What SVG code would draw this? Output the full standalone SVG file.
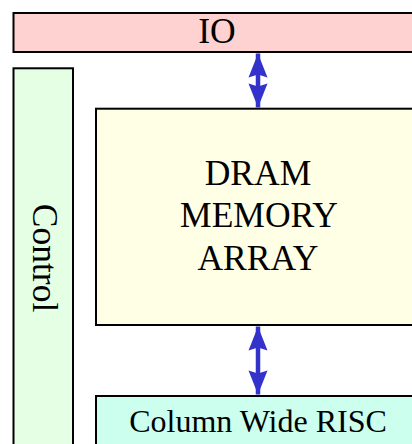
<svg xmlns="http://www.w3.org/2000/svg" width="412" height="444" viewBox="0 0 412 444">
<style>
.box{stroke:#000;stroke-width:2}
.t{font-family:"Liberation Serif","Times New Roman",serif;fill:#000;text-anchor:middle}
.big{font-size:35.5px}
.conn{stroke:#3333cc;stroke-width:4.5;fill:none}
</style>
<defs>
<marker id="ah" markerUnits="userSpaceOnUse" markerWidth="30" markerHeight="24" viewBox="-26 -12 30 24" refX="0" refY="0" orient="auto-start-reverse">
<path d="M0,0 L-24,-9.5 L-21,0 L-24,9.5 Z" fill="#3333cc"/>
</marker>
</defs>
<rect width="412" height="444" fill="#fff"/>
<g id="io">
<rect class="box" x="13.5" y="13" width="420" height="39" fill="#ffd2d2"/>
<text class="t big" x="217" y="43">IO</text>
</g>
<g id="control">
<rect class="box" x="13.5" y="68.3" width="59.5" height="400" fill="#e5ffe5"/>
<text class="t big" transform="translate(33,258) rotate(90)">Control</text>
</g>
<g id="dram">
<rect class="box" x="96" y="108.7" width="340" height="216.3" fill="#ffffe5"/>
<text class="t big" x="258" y="185">DRAM</text>
<text class="t big" x="259" y="227">MEMORY</text>
<text class="t big" x="258" y="270">ARRAY</text>
</g>
<g id="risc">
<rect class="box" x="96" y="396" width="340" height="60" fill="#ccffee"/>
<text class="t" x="258" y="431.5" font-size="32">Column Wide RISC</text>
</g>
<g id="connectors">
<line class="conn" x1="258" y1="53.5" x2="258" y2="107.5" marker-start="url(#ah)" marker-end="url(#ah)"/>
<line class="conn" x1="258" y1="326.5" x2="258" y2="394.5" marker-start="url(#ah)" marker-end="url(#ah)"/>
</g>
</svg>
